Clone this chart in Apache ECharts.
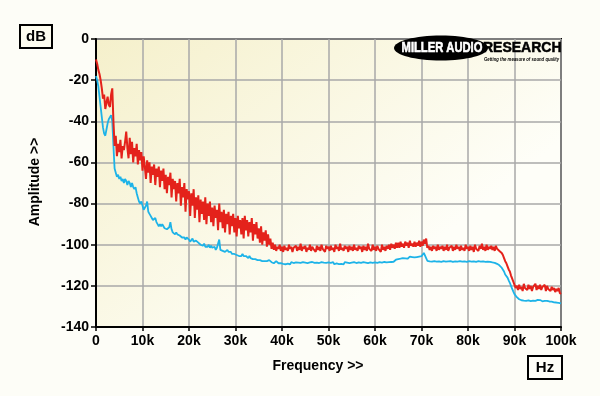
<!DOCTYPE html>
<html>
<head>
<meta charset="utf-8">
<script src="https://cdn.jsdelivr.net/npm/echarts@6/dist/echarts.min.js"></script>
<style>
html,body{margin:0;padding:0;background:#fdfdf7;}
#chart{width:600px;height:396px;}
</style>
</head>
<body>
<div id="chart"></div>
<script>
// Frequency grid in kHz (0 .. 100 in 0.25 kHz bins)
var freqStepKHz = 0.25;
var xTickLabels = ['0','10k','20k','30k','40k','50k','60k','70k','80k','90k','100k'];
var yTickLabels = ['-140','-120','-100','-80','-60','-40','-20','0'];

// Red trace (dB), one value per 0.25 kHz bin; each row = 5 kHz
var redValues = [
  -10, -12, -15, -17, -20, -24, -29, -27, -34, -31, -28, -32, -33, -27, -24, -40, -52, -47, -57, -51,
  -55, -49, -58, -52, -54, -50, -45, -53, -58, -48, -56, -50, -60, -53, -57, -51, -61, -54, -59, -55,
  -64, -57, -62, -68, -59, -65, -60, -70, -62, -66, -61, -71, -63, -67, -62, -72, -64, -69, -63, -73,
  -66, -75, -67, -71, -65, -77, -68, -73, -69, -79, -70, -75, -68, -81, -72, -77, -70, -84, -73, -78,
  -74, -86, -75, -81, -73, -87, -77, -83, -76, -89, -78, -85, -79, -88, -77, -90, -80, -86, -79, -89,
  -82, -91, -81, -87, -83, -93, -80, -89, -84, -92, -83, -94, -85, -90, -84, -95, -86, -91, -85, -94,
  -87, -96, -86, -92, -88, -95, -87, -97, -86, -93, -88, -96, -89, -94, -87, -98, -90, -95, -89, -97,
  -92, -99, -91, -100, -94, -98, -93, -101, -95, -100, -97, -102, -99, -102.5, -100, -103, -101, -102, -100, -103,
  -101, -103.5, -100.5, -102.5, -101.5, -103, -100, -102, -101, -103.5, -101.5, -102, -100.5, -103, -101, -102.5, -99.5, -103, -101, -102,
  -100.5, -103.5, -101.5, -102.5, -100, -103, -101, -102, -101.5, -103.5, -100.5, -102.5, -101, -103, -100, -102, -101.5, -103.5, -100.5, -102,
  -101, -103, -100.5, -102.5, -101.5, -103.5, -100, -102, -101, -103, -99.5, -102.5, -101.5, -103, -100.5, -102, -101, -103.5, -100.5, -102.5,
  -101, -103, -100, -102.5, -101.5, -103, -100.5, -102, -101, -103.5, -100.5, -102.5, -101, -103, -99.5, -102, -101.5, -103, -100, -102.5,
  -101, -103, -100.5, -102, -101.5, -103.5, -100, -102.5, -101, -103, -100.5, -102, -100, -102.5, -99.5, -101.5, -100, -102, -99, -101.5,
  -99, -101.5, -98.5, -101, -99.5, -101.5, -98.5, -100.5, -99, -101.5, -98, -100.5, -99.5, -101, -98.5, -101, -99, -100.5, -98, -101,
  -98.5, -100.5, -97.5, -99.5, -97, -101.5, -100.5, -102.5, -101, -103, -100.5, -102, -101, -103, -100, -102.5, -101, -102, -100.5, -103,
  -101, -102.5, -100, -103, -101.5, -102, -100.5, -103, -101, -102.5, -100, -102, -101, -103, -100.5, -102.5, -101.5, -103, -100, -102,
  -101, -103, -100.5, -102.5, -101, -103.5, -100, -102, -101.5, -103, -100.5, -102, -99.5, -102.5, -101, -103, -100, -102.5, -101, -102,
  -100.5, -102.5, -101, -103, -100.5, -102, -101.5, -103, -102.5, -104, -105, -106.5, -108, -109, -110.5, -112, -113, -115, -116.5, -118,
  -119.5, -121, -120, -122, -119.5, -121.5, -120.5, -122.5, -119, -121, -120.5, -122, -119.5, -121.5, -120, -122.5, -120.5, -121, -119, -122,
  -120, -121.5, -119.5, -122, -120.5, -121, -119.5, -122.5, -120, -121.5, -121, -122.5, -120.5, -122, -121, -123, -121.5, -122.5, -121, -123.5,
  -124
];

// Blue trace (dB), one value per 0.25 kHz bin; each row = 5 kHz
var blueValues = [
  -18, -20, -23, -28, -33, -38, -43, -46, -47, -44, -41, -39, -38, -37, -40, -52, -63, -65, -67, -66,
  -68, -67, -69, -68, -70, -68, -69, -71, -69, -70, -72, -70, -72, -73, -72, -75, -77, -79, -80, -79,
  -81, -83, -82, -81, -79, -84, -85, -86, -87, -88, -88, -87, -89, -90, -91, -90, -91, -90, -91, -92,
  -91.5, -92.5, -93, -91.5, -89, -92.5, -94, -93.5, -95, -94, -95, -94.5, -95.5, -95, -96.5, -96, -96.5, -97.5, -96.5, -97,
  -97.5, -98.5, -98, -97, -98.5, -99, -98, -97.5, -99, -98.5, -100, -99.5, -100.5, -99.5, -101, -100.5, -101, -100, -101.5, -100.5,
  -101.5, -102, -101, -102.5, -101.5, -102, -97.5, -102.5, -102, -103, -102.5, -103.5, -103, -102.5, -103.5, -104, -103.5, -104.5, -104, -104.5,
  -104, -105, -104.5, -105.5, -105, -105.5, -104.5, -105.5, -106, -105.5, -106, -106.5, -105.5, -106.5, -106, -107, -106.5, -107, -106.5, -107.5,
  -107, -107.5, -107, -108, -107.5, -108, -107.5, -108, -108.5, -107.5, -108, -108.5, -108, -109, -108.5, -108, -108.5, -109, -108.5, -109,
  -108.5, -109.3, -108.7, -109.5, -108.6, -109.2, -108.8, -109.6, -108.5, -109.1, -108.9, -109.4, -108.6, -109.3, -108.7, -109.5, -108.8, -109.2, -108.5, -109.4,
  -108.7, -109.3, -108.9, -109.6, -108.6, -109.2, -108.4, -109.1, -108.8, -109.5, -108.7, -109.3, -108.9, -109.4, -108.5, -109.2, -108.7, -109.5, -108.8, -109.1,
  -108.6, -109.4, -108.8, -109.2, -108.5, -109.5, -108.7, -109.1, -108.9, -109.4, -108.6, -109.3, -108.8, -109.6, -108.5, -109.2, -108.7, -109.3, -108.9, -109.1,
  -108.7, -109.4, -108.5, -109.2, -108.9, -109.5, -108.6, -109.1, -108.8, -109.3, -108.5, -109.4, -108.7, -109.2, -108.9, -109.5, -108.6, -109.1, -108.8, -109.3,
  -108.6, -109.2, -108.8, -109.0, -108.5, -109.3, -108.7, -108.9, -108.4, -109.1, -108.6, -108.9, -108.5, -108.8, -108.4, -108.9, -108.3, -107.8, -107.3, -107.6,
  -107, -107.4, -106.8, -107.2, -106.5, -107, -106.6, -106.2, -106.8, -106.3, -105.8, -106.5, -106, -105.6, -106.2, -105.5, -106, -105.3, -105.8, -105.2,
  -105.6, -104.8, -104, -104.5, -106.5, -107.8, -108.3, -108.1, -108.5, -108.2, -108.6, -108.0, -108.4, -108.2, -108.7, -108.1, -108.5, -108.3, -108.6, -108.0,
  -108.4, -108.2, -108.6, -108.1, -108.5, -108.0, -108.4, -108.3, -108.6, -108.1, -108.5, -108.2, -108.4, -108.0, -108.6, -108.2, -108.5, -108.1, -108.4, -108.3,
  -108.5, -108.0, -108.4, -108.2, -108.6, -108.1, -108.5, -108.3, -108.4, -108.0, -108.6, -108.2, -108.5, -108.1, -108.4, -108.3, -108.6, -108.2, -108.5, -108.3,
  -108.4, -108.6, -108.5, -108.8, -109, -109.3, -109.6, -110, -110.5, -111.2, -112, -113, -114.5, -115.2, -116, -117.3, -118.5, -120, -121.5, -122.8,
  -124, -124.8, -125.5, -126, -126.5, -126.8, -127, -126.6, -127.2, -126.8, -127.3, -126.7, -127.1, -126.8, -127.4, -126.9, -127.2, -126.7, -127.3, -126.9,
  -126.8, -127.4, -126.9, -127.2, -127.5, -127.0, -127.3, -127.6, -127.3, -127.8, -127.6, -128, -127.7, -128.2, -128, -128.3, -128.1, -128.5, -128.3, -128.6,
  -128.5
];

function pairs(vals){
  var out = [];
  for (var i = 0; i < vals.length; i++) out.push([i * freqStepKHz, vals[i]]);
  return out;
}

var FONT = 'Liberation Sans';
var chart = echarts.init(document.getElementById('chart'), null, {renderer: 'canvas'});
chart.setOption({
  animation: false,
  backgroundColor: '#fdfdf7',
  grid: {
    left: 96, right: 39, top: 39, bottom: 69,
    show: true,
    borderColor: '#000', borderWidth: 2,
    backgroundColor: new echarts.graphic.LinearGradient(0, 0, 0.5, 1, [
      {offset: 0, color: '#f5f0cb'},
      {offset: 1, color: '#fefef8'}
    ])
  },
  xAxis: {
    type: 'value', min: 0, max: 100, interval: 10,
    axisLine: {show: true, onZero: false, lineStyle: {color: '#000', width: 2}},
    axisTick: {show: true, length: 4, lineStyle: {color: '#000', width: 1.5}},
    axisLabel: {
      margin: 7, color: '#000', fontFamily: FONT, fontWeight: 'bold', fontSize: 14,
      formatter: function(v){ return xTickLabels[Math.round(v / 10)]; }
    },
    splitLine: {show: true, lineStyle: {color: '#a9a9a9', width: 1.5}}
  },
  yAxis: {
    type: 'value', min: -140, max: 0, interval: 20,
    axisLine: {show: true, onZero: false, lineStyle: {color: '#000', width: 2}},
    axisTick: {show: true, length: 5, lineStyle: {color: '#000', width: 1.5}},
    axisLabel: {
      margin: 7, color: '#000', fontFamily: FONT, fontWeight: 'bold', fontSize: 14,
      formatter: function(v){ return yTickLabels[Math.round((v + 140) / 20)]; }
    },
    splitLine: {show: true, lineStyle: {color: '#a9a9a9', width: 1.5}}
  },
  series: [
    {
      type: 'line', data: pairs(blueValues), showSymbol: false, symbol: 'none',
      lineStyle: {color: '#1db3e8', width: 1.8}, z: 3
    },
    {
      type: 'line', data: pairs(redValues), showSymbol: false, symbol: 'none',
      lineStyle: {color: '#e4221b', width: 2}, z: 4
    }
  ],
  graphic: [
    {type: 'rect', shape: {x: 20, y: 25, width: 32, height: 23},
     style: {fill: '#fdfcef', stroke: '#000', lineWidth: 2}},
    {type: 'text', x: 36, y: 37,
     style: {text: 'dB', font: 'bold 15px ' + FONT, fill: '#000', textAlign: 'center', textVerticalAlign: 'middle'}},
    {type: 'rect', shape: {x: 528, y: 356, width: 34, height: 23},
     style: {fill: '#fdfdf7', stroke: '#000', lineWidth: 2}},
    {type: 'text', x: 545, y: 368,
     style: {text: 'Hz', font: 'bold 15px ' + FONT, fill: '#000', textAlign: 'center', textVerticalAlign: 'middle'}},
    {type: 'text', x: 35, y: 182, rotation: Math.PI / 2,
     style: {text: 'Amplitude >>', font: 'bold 14px ' + FONT, fill: '#000', textAlign: 'center', textVerticalAlign: 'middle'}},
    {type: 'text', x: 318, y: 366,
     style: {text: 'Frequency >>', font: 'bold 14px ' + FONT, fill: '#000', textAlign: 'center', textVerticalAlign: 'middle'}},
    {type: 'ellipse', shape: {cx: 441, cy: 48, rx: 47, ry: 12.5}, style: {fill: '#000'}, z: 10},
    {type: 'text', x: 442, y: 48, scaleX: 0.8, z: 11,
     style: {text: 'MILLER AUDIO', font: '900 14px ' + FONT, fill: '#fff', stroke: '#fff', lineWidth: 0.6, textAlign: 'center', textVerticalAlign: 'middle'}},
    {type: 'text', x: 483, y: 48, z: 11,
     style: {text: 'RESEARCH', font: '900 14px ' + FONT, fill: '#000', stroke: '#000', lineWidth: 0.5, textAlign: 'left', textVerticalAlign: 'middle'}},
    {type: 'text', x: 484, y: 59.5, scaleX: 0.85, z: 11,
     style: {text: 'Getting the measure of sound quality', font: 'italic bold 5px ' + FONT, fill: '#000', textAlign: 'left', textVerticalAlign: 'middle'}}
  ]
});
</script>
</body>
</html>
